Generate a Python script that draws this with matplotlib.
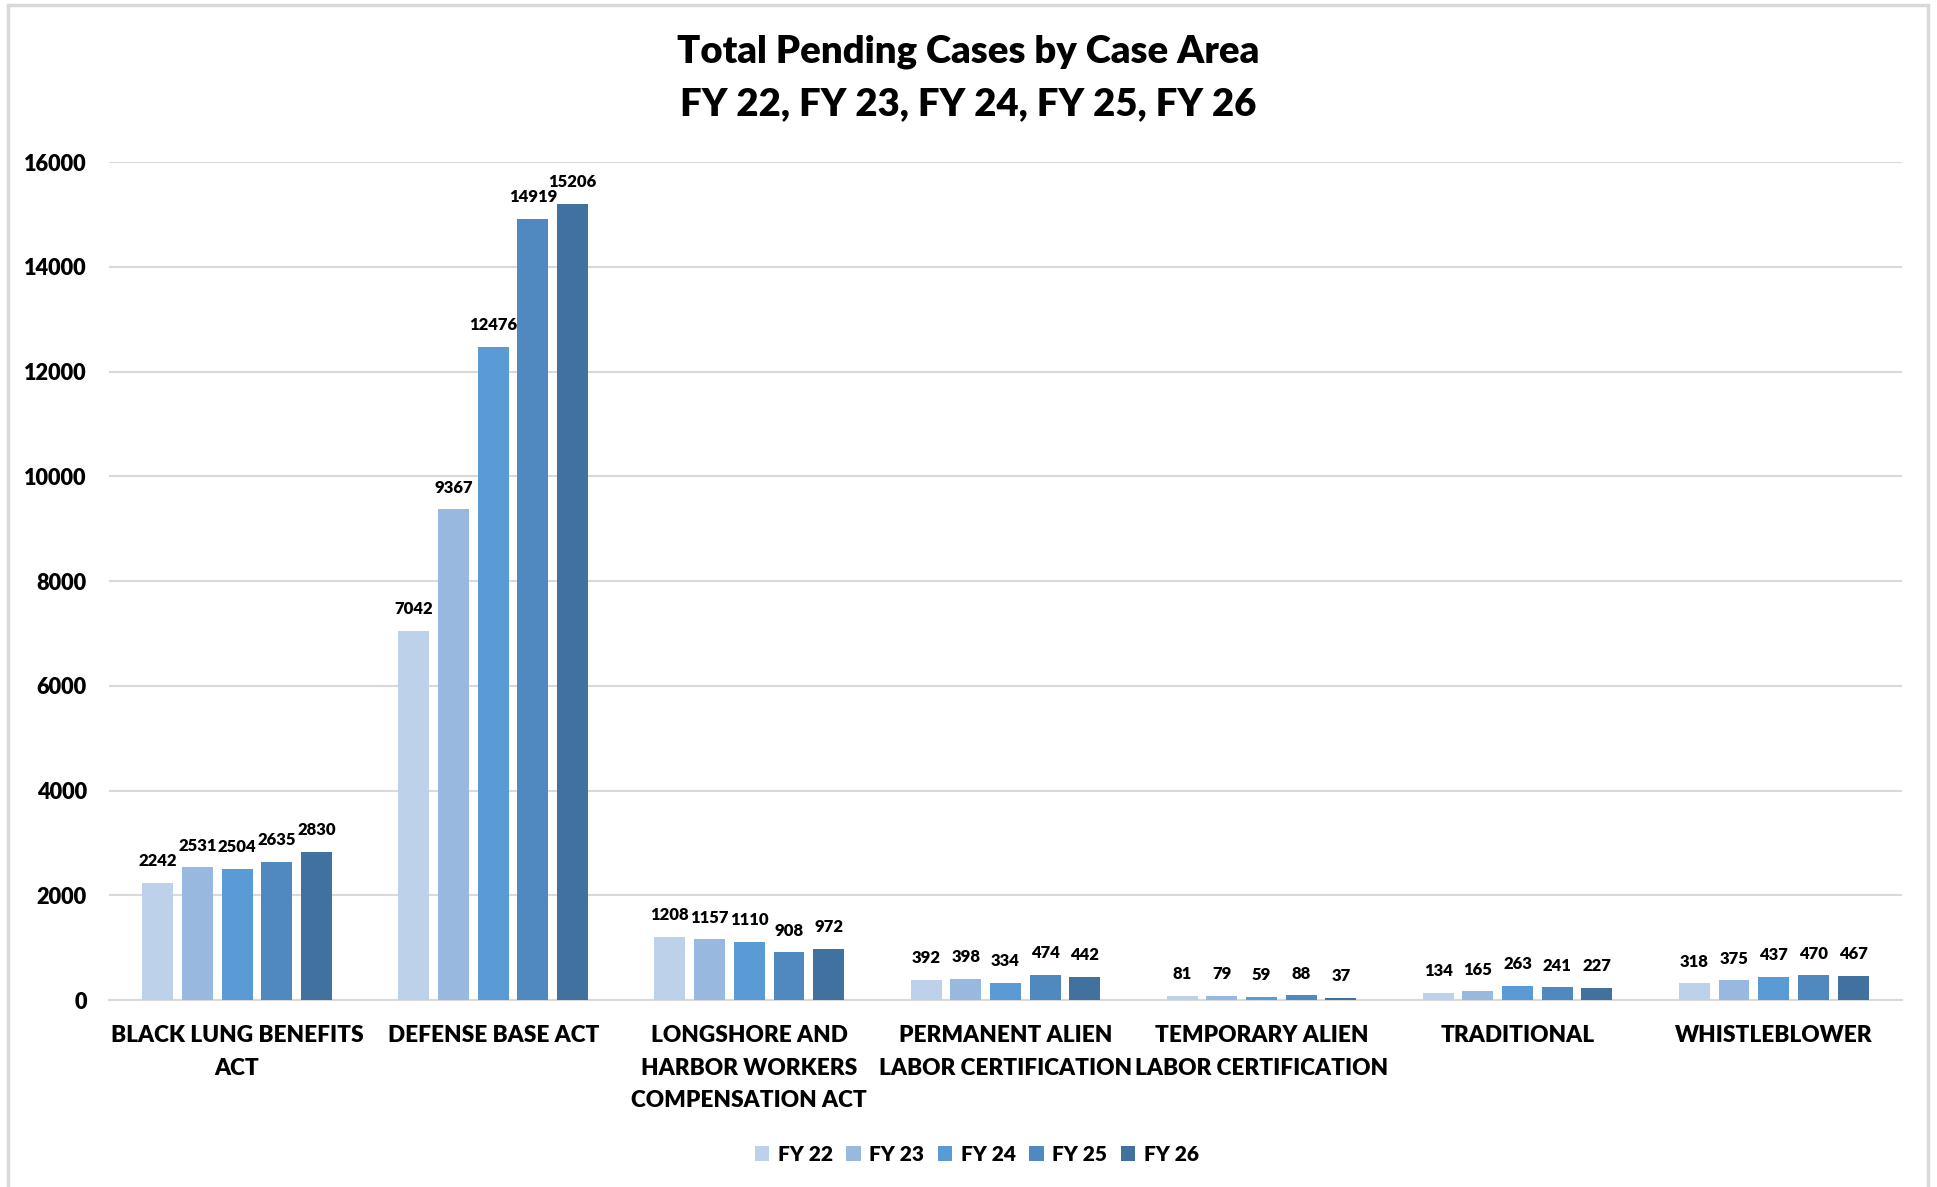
import numpy as np
import matplotlib.pyplot as plt
from matplotlib.patches import Rectangle

plt.rcParams['font.family'] = ['Lato', 'DejaVu Sans']
plt.rcParams['font.weight'] = 'heavy'

categories = ["BLACK LUNG BENEFITS\nACT", "DEFENSE BASE ACT",
              "LONGSHORE AND\nHARBOR WORKERS\nCOMPENSATION ACT",
              "PERMANENT ALIEN\nLABOR CERTIFICATION",
              "TEMPORARY ALIEN\nLABOR CERTIFICATION",
              "TRADITIONAL", "WHISTLEBLOWER"]
years = ["FY 22", "FY 23", "FY 24", "FY 25", "FY 26"]
fy22 = [2242, 7042, 1208, 392, 81, 134, 318]
fy23 = [2531, 9367, 1157, 398, 79, 165, 375]
fy24 = [2504, 12476, 1110, 334, 59, 263, 437]
fy25 = [2635, 14919, 908, 474, 88, 241, 470]
fy26 = [2830, 15206, 972, 442, 37, 227, 467]
series = [fy22, fy23, fy24, fy25, fy26]
colors = ['#BDD1EB', '#98B8DF', '#5B9BD5', '#4F89BF', '#41729F']

fig = plt.figure(figsize=(19.37, 11.87), dpi=100)
ax = fig.add_axes([0.0563, 0.1575, 0.9255, 0.706])

# chart border
fig.patches.append(Rectangle((8 / 1937, -0.01), 1920 / 1937, 1.01 - 5 / 1187,
                             transform=fig.transFigure, fill=False,
                             edgecolor='#D9D9D9', linewidth=2.5))

x = np.arange(len(categories))
bw = 0.121
step = 0.155
for i, (vals, name) in enumerate(zip(series, years)):
    pos = x + (i - 2) * step
    bars = ax.bar(pos, vals, width=bw, color=colors[i], label=name, zorder=3)
    for b, v in zip(bars, vals):
        ax.annotate(str(v), (b.get_x() + b.get_width() / 2, v),
                    xytext=(0, 10), textcoords='offset points',
                    ha='center', va='bottom', fontsize=12)

ax.set_xlim(-0.5, len(categories) - 0.5)
ax.set_ylim(0, 16000)
ax.set_yticks(np.arange(0, 16001, 2000))
ax.yaxis.grid(True, color='#D9D9D9', linewidth=1.5, zorder=0)
for s in ['top', 'right', 'left']:
    ax.spines[s].set_visible(False)
ax.spines['bottom'].set_color('#D9D9D9')
ax.spines['bottom'].set_linewidth(1.5)
ax.tick_params(axis='both', length=0)
ax.tick_params(axis='y', pad=16, labelsize=15.7)
ax.tick_params(axis='x', pad=18)
ax.set_xticks(x)
ax.set_xticklabels(categories, fontsize=16.3, linespacing=1.68)

fig.text(0.5, 0.956, "Total Pending Cases by Case Area", ha='center', va='center',
         fontsize=27.5)
fig.text(0.5, 0.912, "FY 22, FY 23, FY 24, FY 25, FY 26", ha='center', va='center',
         fontsize=27.5)

ax.legend(loc='center', bbox_to_anchor=(0.484, -0.184), ncol=5, frameon=False,
          fontsize=15, handlelength=0.7, handleheight=0.7, columnspacing=0.65,
          handletextpad=0.4)

fig.savefig('out.png', dpi=100)
